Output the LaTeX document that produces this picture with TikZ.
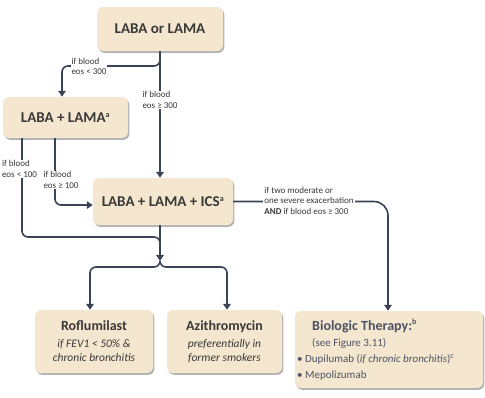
\documentclass[tikz,border=0pt]{standalone}
\usepackage{fontspec}
\setmainfont{Carlito}
\usetikzlibrary{arrows.meta,shadows}
\definecolor{boxfill}{HTML}{F5E7CF}
\definecolor{linec}{HTML}{3A4456}
\definecolor{txt}{HTML}{383838}
\definecolor{btxt}{HTML}{4A5264}
\newcommand{\smsup}[1]{\textsuperscript{\fontsize{8}{8}\selectfont #1}}
\begin{document}
\begin{tikzpicture}[x=1pt,y=-1pt,
  box/.style={fill=boxfill, rounded corners=6pt,
    drop shadow={shadow xshift=1.3pt,shadow yshift=-1.8pt,fill=black,opacity=0.3},
    inner sep=0pt, text=txt, align=center},
  bigt/.style={font=\fontsize{15}{17}\selectfont\bfseries},
  conn/.style={draw=linec, line width=1.6pt, rounded corners=6pt},
  arr/.style={conn, -{Triangle[length=6pt,width=7.5pt]}},
  lbl/.style={fill=white, inner sep=1pt, text=txt, font=\fontsize{9}{10.5}\selectfont, align=left},
]
\useasboundingbox[fill=white] (0,0) rectangle (485,397);

% boxes
\node[box, bigt, minimum width=126pt, minimum height=44pt] (b1) at (160,29) {LABA or LAMA};
\node[box, bigt, minimum width=125pt, minimum height=41pt] (b2) at (65.5,117.5) {LABA + LAMA\smsup{a}};
\node[box, bigt, minimum width=140pt, minimum height=47pt] (b3) at (163,201.5) {LABA + LAMA + ICS\smsup{a}};
\node[box, minimum width=118pt, minimum height=63pt, font=\fontsize{11.5}{14}\selectfont] (b4) at (94,341.5)
  {{\bfseries\fontsize{14}{14}\selectfont Roflumilast}\\[3pt]\itshape if FEV1 < 50\% \&\\\itshape chronic bronchitis};
\node[box, minimum width=115pt, minimum height=63pt, font=\fontsize{11.5}{14}\selectfont] (b5) at (224.5,341.5)
  {{\bfseries\fontsize{14}{14}\selectfont Azithromycin}\\[3pt]\itshape preferentially in\\\itshape former smokers};
\node[box, minimum width=188pt, minimum height=77pt] (b6) at (389,349.5) {};
\node[anchor=north west, align=left, text=btxt, inner sep=0pt, font=\fontsize{11}{16}\selectfont] (b6t) at (297,319)
  {\hspace*{15pt}{\bfseries\fontsize{14}{16}\selectfont Biologic Therapy:\smsup{b}}\\
   \hspace*{15pt}(see Figure 3.11)\\
   • Dupilumab (\textit{if chronic bronchitis})\smsup{c}\\
   • Mepolizumab};

% helper coordinates
\coordinate (xL) at (62,0);
\coordinate (jA) at (160,56);
\coordinate (jB) at (160,66);
\coordinate (xa) at (22,0);
\coordinate (xb) at (55,0);
\coordinate (yM) at (0,237);
\coordinate (yE) at (0,205);
\coordinate (m) at (160,261);
\coordinate (mm) at (160,250);
\coordinate (yB) at (0,267);
\coordinate (x4) at (90,0);
\coordinate (x5) at (227,0);
\coordinate (x6) at (388,0);

% connectors
\draw[arr] (b1.south -| jA) -- (b3.north -| jA);
\draw[arr] (jA) -- (jB) -- (jB -| xL) -- (b2.north -| xL);
\draw[conn] (b2.south -| xa) -- (xa |- yM) -- (yM -| m) -- (mm);
\draw[arr] (b2.south -| xb) -- (xb |- yE) -- (b3.west |- yE);
\draw[arr] (b3.south -| m) -- (m);
\draw[arr] (m) -- (m |- yB) -- (x4 |- yB) -- (b4.north -| x4);
\draw[arr] (m) -- (m |- yB) -- (x5 |- yB) -- (b5.north -| x5);
\draw[arr, rounded corners=14pt] (b3.east) -- (b3.east -| x6) -- (b6.north -| x6);

% labels
\node[lbl] (lA) at (89,66.5) {if blood\\eos < 300};
\node[lbl] (lB) at (160,100) {if blood\\eos ≥ 300};
\node[lbl] (lC) at (19.5,169) {if blood\\eos < 100};
\node[lbl] (lD) at (61,180) {if blood\\eos ≥ 100};
\node[lbl] (lE) at (309,200.5) {if two moderate or\\one severe exacerbation\\\textbf{AND} if blood eos ≥ 300};
\end{tikzpicture}
\end{document}
